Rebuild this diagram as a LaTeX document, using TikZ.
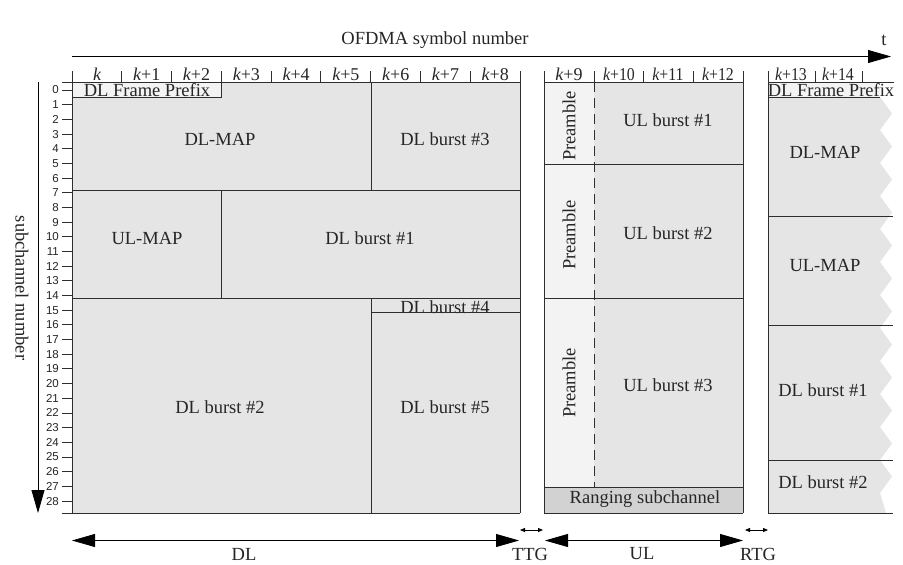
\documentclass[tikz,border=0pt]{standalone}
\usepackage{fontspec}
\usepackage{graphicx}
\setmainfont{Liberation Serif}
\newfontfamily\numfont{Liberation Sans}
\usetikzlibrary{arrows.meta}
\definecolor{cellgray}{HTML}{E5E5E5}
\definecolor{lightcell}{HTML}{F3F3F3}
\definecolor{rangegray}{HTML}{D2D2D2}
\definecolor{linec}{HTML}{2E2E2E}
\newcommand{\lblfont}{\fontsize{18.5}{20}\selectfont}
\newcommand{\colfont}{\fontsize{18}{19}\selectfont}
\newcommand{\rowfont}{\numfont\fontsize{11.5}{12}\selectfont}
\newcommand{\kk}[1]{{\itshape k}+#1}
\newcommand{\kw}[1]{\scalebox{0.88}[1]{{\itshape k}+#1}}
\tikzset{
  frameline/.style={draw=linec, line width=0.9pt},
  lbl/.style={font=\lblfont, inner sep=0pt, text=black!85},
  collbl/.style={font=\colfont, inner sep=0pt, anchor=base, text=black!85},
  rowlbl/.style={font=\rowfont, inner sep=0pt, anchor=east, text=black!85},
  bigarrow/.style={draw=black, line width=0.8pt, -{Triangle[length=23pt,width=13pt]}},
  bigdarrow/.style={draw=black, line width=0.8pt, {Triangle[length=23pt,width=13pt]}-{Triangle[length=23pt,width=13pt]}},
  smallarrow/.style={draw=black, line width=0.8pt, {Triangle[length=5pt,width=4pt]}-{Triangle[length=5pt,width=4pt]}}
}
\begin{document}
\begin{tikzpicture}[x=1pt,y=-1pt]
\useasboundingbox (0,0) rectangle (903,565);
\fill[white] (0,0) rectangle (903,565);

% ---------- top axis ----------
\coordinate (tS) at (72,56.5);
\coordinate (tE) at (891,56.5);
\draw[bigarrow] (tS) -- (tE);
\node[lbl] (ofdma) at (435,40) {OFDMA symbol number};
\node[lbl] (tlab) at (884,40) {t};

% ---------- left axis ----------
\coordinate (sS) at (38,82);
\coordinate (sE) at (38,513);
\draw[bigarrow] (sS) -- (sE);
\node[lbl, rotate=-90] (subch) at (22,288) {subchannel number};

% ---------- DL region ----------
\fill[cellgray] (72,82) rectangle (520,513);
\fill[lightcell] (72,82) rectangle (221,97);
\node[lbl, anchor=base] (dlfp) at (147,96.5) {DL Frame Prefix};
\node[lbl, anchor=base] (dlb4) at (445,313) {DL burst \#4};
\draw[frameline] (72,97) -- (221,97) -- (221,82);
\draw[frameline] (72,190.7) -- (520,190.7);
\draw[frameline] (371,82) -- (371,190.7);
\draw[frameline] (221,190.7) -- (221,298);
\draw[frameline] (72,298) -- (520,298);
\draw[frameline] (371,298) -- (371,513);
\draw[frameline] (371,312.3) -- (520,312.3);
\draw[frameline] (72,82) -- (520,82);
\draw[frameline] (72,71) -- (72,513) -- (520,513);
\draw[frameline] (520,71) -- (520,513);
\foreach \i in {1,...,8} {
  \draw[frameline] ({72+49.78*\i},71) -- ({72+49.78*\i},82);
}
\node[collbl] (c0) at (97,80) {{\itshape k}};
\foreach \i in {1,...,8} {
  \node[collbl] (c\i) at ({97+49.78*\i},80) {\kk{\i}};
}
\node[lbl] (dlmap) at (220,139) {DL-MAP};
\node[lbl] (dlb3) at (445,139) {DL burst \#3};
\node[lbl] (ulmap) at (147,238) {UL-MAP};
\node[lbl] (dlb1) at (370,238) {DL burst \#1};
\node[lbl] (dlb2) at (220,407) {DL burst \#2};
\node[lbl] (dlb5) at (445,407) {DL burst \#5};

% row ticks
\draw[frameline] (62,82) -- (72,82);
\draw[frameline] (62,513) -- (72,513);
\foreach \n in {0,...,28} {
  \draw[frameline] (62,{90+14.68*\n}) -- (72,{90+14.68*\n});
  \node[rowlbl] (r\n) at (59,{90+14.68*\n}) {\n};
}

% ---------- UL region ----------
\fill[cellgray] (544,82) rectangle (743,513);
\fill[lightcell] (544,82) rectangle (594,487);
\fill[rangegray] (544,487) rectangle (743,513);
\draw[frameline] (544,164) -- (743,164);
\draw[frameline] (544,298) -- (743,298);
\draw[frameline] (544,487) -- (743,487);
\draw[draw=linec, line width=0.9pt, dash pattern=on 10pt off 6pt] (594,82) -- (594,487);
\draw[frameline] (544,82) -- (743,82);
\draw[frameline] (544,71) -- (544,513) -- (743,513);
\draw[frameline] (743,71) -- (743,513);
\foreach \x in {594,643.5,693} {
  \draw[frameline] (\x,71) -- (\x,82);
}
\node[collbl] (c9) at (569,80) {\kk{9}};
\node[collbl] (c10) at (619,80) {\kw{10}};
\node[collbl] (c11) at (668,80) {\kw{11}};
\node[collbl] (c12) at (718,80) {\kw{12}};
\node[lbl, rotate=90] (pre1) at (569,126) {Preamble};
\node[lbl, rotate=90] (pre2) at (569,235) {Preamble};
\node[lbl, rotate=90] (pre3) at (569,383) {Preamble};
\node[lbl] (ulb1) at (668,120) {UL burst \#1};
\node[lbl] (ulb2) at (668,233) {UL burst \#2};
\node[lbl] (ulb3) at (668,385) {UL burst \#3};
\node[lbl] (rng) at (645,499.5) {Ranging subchannel};

% ---------- next frame ----------
\fill[cellgray] (768,97) -- (880,97)
  \foreach \j in {0,...,11} { -- (892,{113.5+33*\j}) -- (880,{130+33*\j}) }
  -- (886,513) -- (768,513) -- cycle;
\fill[lightcell] (768,82) rectangle (880,97);
\node[lbl, anchor=base] (dlfp2) at (831,96.5) {DL Frame Prefix};
\draw[frameline] (768,82) -- (894,82);
\draw[frameline] (768,97) -- (880,97);
\draw[frameline] (768,216.7) -- (893,216.7);
\draw[frameline] (768,325) -- (893,325);
\draw[frameline] (768,460.7) -- (893,460.7);
\draw[frameline] (768,513) -- (893,513);
\draw[frameline] (768,71) -- (768,513);
\draw[frameline] (815,71) -- (815,82);
\draw[frameline] (862,71) -- (862,82);
\node[collbl] (c13) at (791,80) {\kw{13}};
\node[collbl] (c14) at (838,80) {\kw{14}};
\node[lbl] (dlmap2) at (825,152) {DL-MAP};
\node[lbl] (ulmap2) at (825,265) {UL-MAP};
\node[lbl] (dlb1b) at (823,390) {DL burst \#1};
\node[lbl] (dlb2b) at (823,482) {DL burst \#2};

% ---------- bottom arrows ----------
\coordinate (dlS) at (72,540.5);
\coordinate (dlE) at (519,540.5);
\coordinate (ulS) at (545,540.5);
\coordinate (ulE) at (743,540.5);
\coordinate (ttgS) at (520,530);
\coordinate (ttgE) at (543,530);
\coordinate (rtgS) at (745,530);
\coordinate (rtgE) at (768,530);
\draw[bigdarrow] (dlS) -- (dlE);
\draw[bigdarrow] (ulS) -- (ulE);
\draw[smallarrow] (ttgS) -- (ttgE);
\draw[smallarrow] (rtgS) -- (rtgE);
\node[lbl] (dl) at (244,554) {DL};
\node[lbl] (ul) at (642,554) {UL};
\node[lbl] (ttg) at (530,554) {TTG};
\node[lbl] (rtg) at (758,554) {RTG};
\end{tikzpicture}
\end{document}
